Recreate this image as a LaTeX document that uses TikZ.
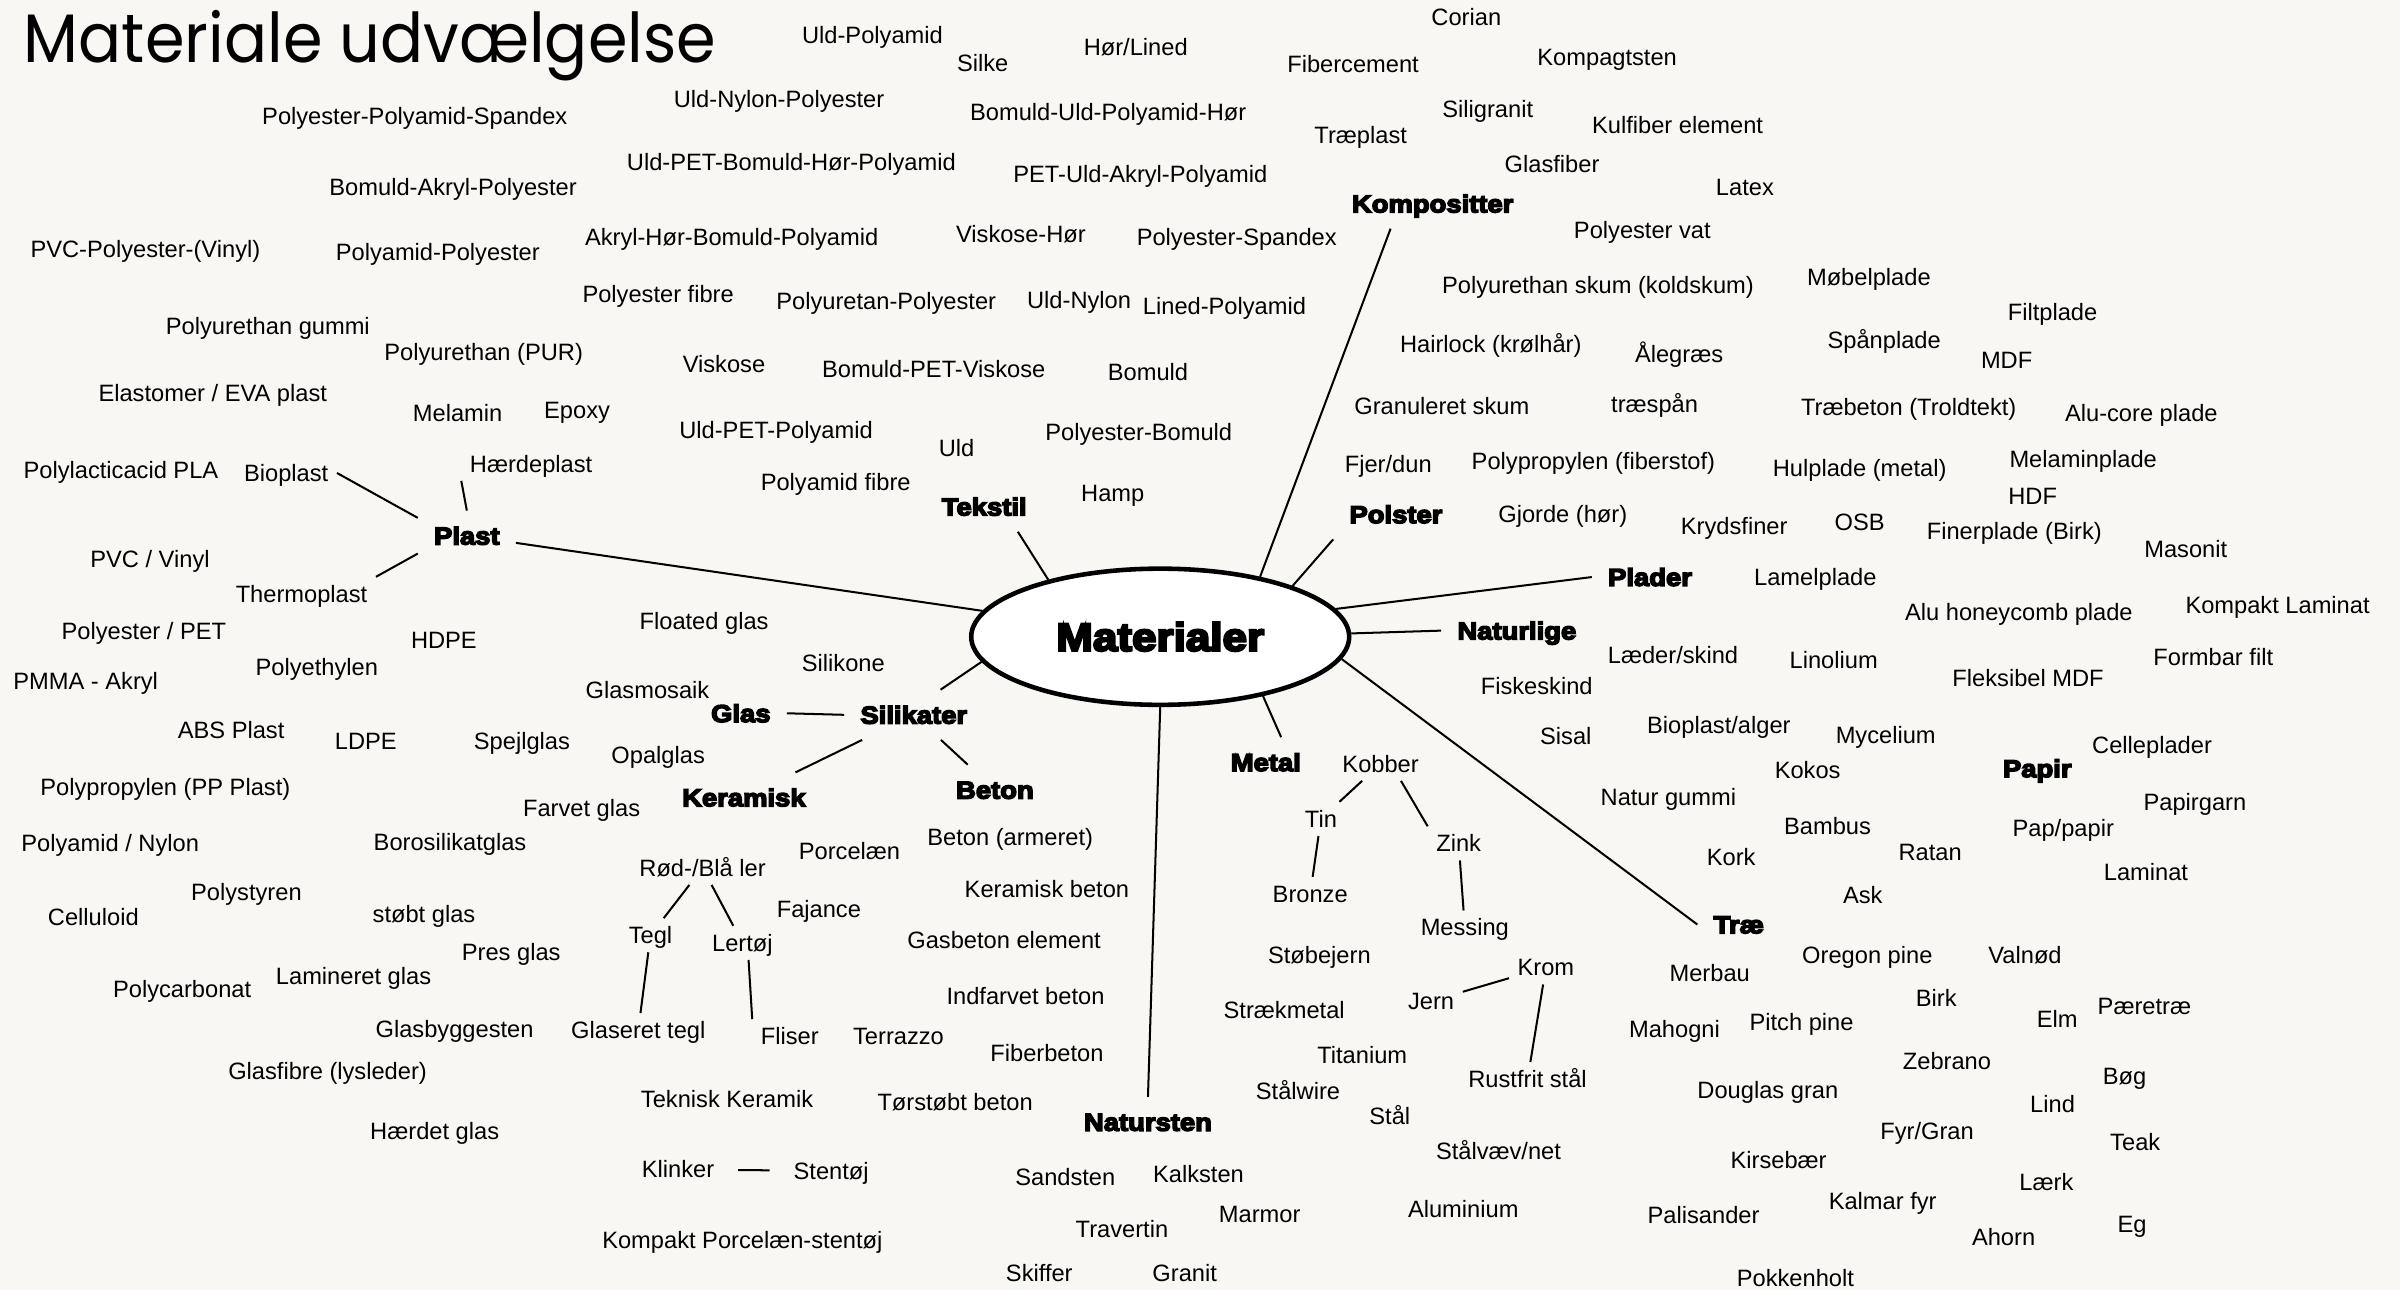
\documentclass[tikz,border=0pt]{standalone}
\usepackage{fontspec}
\setmainfont{Liberation Sans}
\newfontfamily\headfont[FakeStretch=1.12,FakeBold=6]{Liberation Sans Bold}
\newfontfamily\titlefont[FakeStretch=0.93]{Poppins}
\usetikzlibrary{shapes.geometric}
\definecolor{paper}{RGB}{248,247,243}

\begin{document}
\begin{tikzpicture}[x=0.02cm, y=-0.02cm,
  lbl/.style={font=\fontsize{8.8}{10}\selectfont, inner sep=0.1cm, text height=0.22cm, text depth=0cm},
  grp/.style={font=\headfont\fontsize{9.1}{10}\selectfont, inner sep=0.2cm, text height=0.23cm, text depth=0cm},
  core/.style={ellipse, draw, fill=white, line width=1.7pt, minimum width=4.94cm, minimum height=1.78cm, inner sep=0pt, font=\headfont\fontsize{14.6}{16}\selectfont},
  every path/.style={line width=0.75pt}]
  \fill[paper] (0,0) rectangle (1568,843);
  \useasboundingbox (0,0) rectangle (1568,843);

  \node[font=\titlefont\fontsize{25.5}{30}\selectfont, anchor=base west, inner sep=0pt] (title) at (15,40.5) {Materiale udvælgelse};

  \node[core] (mat) at (758,416) {Materialer};

  \node[grp] (plast) at (305,350) {Plast};
  \node[grp] (tekstil) at (643,331) {Tekstil};
  \node[grp] (kompositter) at (936,133) {Kompositter};
  \node[grp] (polster) at (912,336) {Polster};
  \node[grp] (plader) at (1078,377) {Plader};
  \node[grp] (naturlige) at (991,412) {Naturlige};
  \node[grp] (metal) at (827,498) {Metal};
  \node[grp] (natursten) at (750,733) {Natursten};
  \node[grp] (trae) at (1136,604) {Træ};
  \node[grp] (papir) at (1331,502) {Papir};
  \node[grp] (glas) at (484,466) {Glas};
  \node[grp] (silikater) at (597,467) {Silikater};
  \node[grp] (keramisk) at (486,521) {Keramisk};
  \node[grp] (beton) at (650,516) {Beton};

  \node[lbl] (bioplast) at (187,309) {Bioplast};
  \node[lbl] (haerdeplast) at (347,303) {Hærdeplast};
  \node[lbl] (thermoplast) at (197,388) {Thermoplast};
  \node[lbl] (ler) at (459,567) {Rød-/Blå ler};
  \node[lbl] (tegl) at (425,611) {Tegl};
  \node[lbl] (lertoej) at (485,616) {Lertøj};
  \node[lbl] (glaseret) at (417,673) {Glaseret tegl};
  \node[lbl] (fliser) at (516,677) {Fliser};
  \node[lbl] (klinker) at (443,764) {Klinker};
  \node[lbl] (stentoej) at (543,765) {Stentøj};
  \node[lbl] (kobber) at (902,499) {Kobber};
  \node[lbl] (tin) at (863,535) {Tin};
  \node[lbl] (zink) at (953,551) {Zink};
  \node[lbl] (bronze) at (856,584) {Bronze};
  \node[lbl] (messing) at (957,606) {Messing};
  \node[lbl] (krom) at (1010,632) {Krom};
  \node[lbl] (jern) at (935,654) {Jern};
  \node[lbl] (rustfrit) at (998,705) {Rustfrit stål};

  \foreach \x/\y/\t [count=\i] in {570/23/{Uld-Polyamid}, 642/41/{Silke}, 742/31/{Hør/Lined},
      271/76/{Polyester-Polyamid-Spandex}, 509/65/{Uld-Nylon-Polyester}, 724/73/{Bomuld-Uld-Polyamid-Hør},
      517/106/{Uld-PET-Bomuld-Hør-Polyamid}, 296/122/{Bomuld-Akryl-Polyester}, 745/114/{PET-Uld-Akryl-Polyamid},
      95/163/{PVC-Polyester-(Vinyl)}, 286/165/{Polyamid-Polyester}, 478/155/{Akryl-Hør-Bomuld-Polyamid},
      667/153/{Viskose-Hør}, 808/155/{Polyester-Spandex}, 430/192/{Polyester fibre},
      579/197/{Polyuretan-Polyester}, 705/196/{Uld-Nylon}, 800/200/{Lined-Polyamid},
      473/238/{Viskose}, 610/241/{Bomuld-PET-Viskose}, 750/243/{Bomuld},
      507/281/{Uld-PET-Polyamid}, 744/282/{Polyester-Bomuld}, 625/293/{Uld},
      546/315/{Polyamid fibre}, 727/322/{Hamp}}
    \node[lbl] (tx\i) at (\x,\y) {\t};

  \foreach \x/\y/\t [count=\i] in {175/213/{Polyurethan gummi}, 316/230/{Polyurethan (PUR)},
      139/257/{Elastomer / EVA plast}, 299/270/{Melamin}, 377/268/{Epoxy},
      79/307/{Polylacticacid PLA}, 98/365/{PVC / Vinyl}, 94/412/{Polyester / PET},
      290/418/{HDPE}, 207/436/{Polyethylen}, 56/445/{PMMA - Akryl},
      151/477/{ABS Plast}, 239/484/{LDPE}, 108/514/{Polypropylen (PP Plast)},
      72/551/{Polyamid / Nylon}, 161/583/{Polystyren}, 61/599/{Celluloid},
      119/646/{Polycarbonat}}
    \node[lbl] (pl\i) at (\x,\y) {\t};

  \foreach \x/\y/\t [count=\i] in {460/406/{Floated glas}, 551/433/{Silikone}, 423/451/{Glasmosaik},
      341/484/{Spejlglas}, 430/493/{Opalglas}, 380/528/{Farvet glas},
      294/550/{Borosilikatglas}, 277/597/{støbt glas}, 334/622/{Pres glas},
      231/638/{Lamineret glas}, 297/672/{Glasbyggesten}, 214/700/{Glasfibre (lysleder)},
      284/739/{Hærdet glas}}
    \node[lbl] (gl\i) at (\x,\y) {\t};

  \foreach \x/\y/\t [count=\i] in {555/556/{Porcelæn}, 535/594/{Fajance}, 475/718/{Teknisk Keramik},
      485/810/{Kompakt Porcelæn-stentøj},
      660/547/{Beton (armeret)}, 684/581/{Keramisk beton}, 656/614/{Gasbeton element},
      670/651/{Indfarvet beton}, 587/677/{Terrazzo}, 684/688/{Fiberbeton},
      624/720/{Tørstøbt beton}}
    \node[lbl] (si\i) at (\x,\y) {\t};

  \foreach \x/\y/\t [count=\i] in {696/769/{Sandsten}, 783/767/{Kalksten}, 733/803/{Travertin},
      823/793/{Marmor}, 679/832/{Skiffer}, 774/832/{Granit}}
    \node[lbl] (ns\i) at (\x,\y) {\t};

  \foreach \x/\y/\t [count=\i] in {862/624/{Støbejern}, 839/660/{Strækmetal}, 890/689/{Titanium},
      848/713/{Stålwire}, 908/729/{Stål}, 979/752/{Stålvæv/net}, 956/790/{Aluminium}}
    \node[lbl] (me\i) at (\x,\y) {\t};

  \foreach \x/\y/\t [count=\i] in {958/11/{Corian}, 884/42/{Fibercement}, 1050/37/{Kompagtsten},
      972/71/{Siligranit}, 1096/82/{Kulfiber element}, 889/88/{Træplast},
      1014/107/{Glasfiber}, 1140/122/{Latex}}
    \node[lbl] (ko\i) at (\x,\y) {\t};

  \foreach \x/\y/\t [count=\i] in {1073/150/{Polyester vat}, 1044/186/{Polyurethan skum (koldskum)},
      974/225/{Hairlock (krølhår)}, 1097/231/{Ålegræs}, 942/265/{Granuleret skum},
      1081/264/{træspån}, 907/303/{Fjer/dun}, 1041/301/{Polypropylen (fiberstof)},
      1021/336/{Gjorde (hør)}}
    \node[lbl] (po\i) at (\x,\y) {\t};

  \foreach \x/\y/\t [count=\i] in {1221/181/{Møbelplade}, 1341/204/{Filtplade}, 1231/222/{Spånplade},
      1311/235/{MDF}, 1247/266/{Træbeton (Troldtekt)}, 1399/270/{Alu-core plade},
      1215/306/{Hulplade (metal)}, 1361/300/{Melaminplade}, 1328/324/{HDF},
      1133/344/{Krydsfiner}, 1215/341/{OSB}, 1316/347/{Finerplade (Birk)},
      1428/359/{Masonit}, 1186/377/{Lamelplade}, 1319/400/{Alu honeycomb plade},
      1488/395/{Kompakt Laminat}, 1198/431/{Linolium}, 1446/429/{Formbar filt},
      1325/443/{Fleksibel MDF}}
    \node[lbl] (pd\i) at (\x,\y) {\t};

  \foreach \x/\y/\t [count=\i] in {1093/428/{Læder/skind}, 1004/448/{Fiskeskind}, 1123/474/{Bioplast/alger},
      1023/481/{Sisal}, 1232/480/{Mycelium}, 1181/503/{Kokos},
      1090/521/{Natur gummi}, 1194/540/{Bambus}, 1131/560/{Kork}, 1261/557/{Ratan}}
    \node[lbl] (nl\i) at (\x,\y) {\t};

  \foreach \x/\y/\t [count=\i] in {1406/487/{Celleplader}, 1434/524/{Papirgarn},
      1348/541/{Pap/papir}, 1402/570/{Laminat}}
    \node[lbl] (pa\i) at (\x,\y) {\t};

  \foreach \x/\y/\t [count=\i] in {1217/585/{Ask}, 1220/624/{Oregon pine}, 1323/624/{Valnød},
      1117/636/{Merbau}, 1265/652/{Birk}, 1401/657/{Pæretræ}, 1344/666/{Elm},
      1177/668/{Pitch pine}, 1094/672/{Mahogni}, 1272/693/{Zebrano}, 1388/703/{Bøg},
      1155/712/{Douglas gran}, 1341/721/{Lind}, 1259/739/{Fyr/Gran}, 1395/746/{Teak},
      1162/758/{Kirsebær}, 1337/772/{Lærk}, 1230/785/{Kalmar fyr}, 1113/794/{Palisander},
      1393/800/{Eg}, 1309/808/{Ahorn}, 1173/835/{Pokkenholt}}
    \node[lbl] (tr\i) at (\x,\y) {\t};

  \draw (plast) -- (mat);
  \draw ([xshift=0.44cm]tekstil.south) -- (mat.153);
  \draw ([xshift=-0.55cm]kompositter.south) -- (mat.31);
  \draw (polster.south west) -- (mat.21);
  \draw (plader.west) -- (mat.9);
  \draw (naturlige.west) -- (mat.1);
  \draw (trae.west) -- (mat.-7);
  \draw ([xshift=0.2cm]metal.north) -- (mat.-30);
  \draw (natursten.north) -- (mat.south);
  \draw ([xshift=0.35cm]silikater.north) -- (mat.188);

  \draw (plast.160) -- (bioplast.east);
  \draw (plast.north) -- (haerdeplast.south west);
  \draw (plast.200) -- (thermoplast.north east);
  \draw (glas.east) -- (silikater.west);
  \draw (silikater) -- (keramisk);
  \draw (silikater) -- (beton);
  \draw (ler) -- (tegl);
  \draw (ler) -- (lertoej);
  \draw (tegl) -- (glaseret);
  \draw (lertoej.-70) -- (fliser.north west);
  \draw[shorten <=0.2cm, shorten >=0.2cm] (klinker) -- (stentoej);
  \draw (kobber) -- (tin);
  \draw (kobber.-40) -- (zink.north west);
  \draw (tin) -- (bronze);
  \draw (zink) -- (messing);
  \draw (krom) -- (jern);
  \draw (krom) -- (rustfrit);
\end{tikzpicture}
\end{document}
